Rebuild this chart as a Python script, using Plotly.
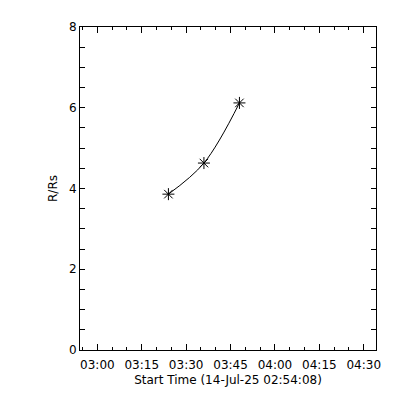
import plotly.graph_objects as go

times = ["2025-07-14 03:24:00", "2025-07-14 03:36:00", "2025-07-14 03:48:00"]
heights = [3.86, 4.63, 6.12]
x_range = ["2025-07-14 02:54:08", "2025-07-14 04:34:08"]
y_ticks = [0, 2, 4, 6, 8]

fig = go.Figure()
fig.add_trace(go.Scatter(
    x=times, y=heights, mode="lines+markers",
    line=dict(color="black", width=1, shape="spline"),
    marker=dict(symbol="asterisk-open", size=10, color="black", line=dict(color="black", width=1)),
    showlegend=False,
))

font = dict(family="DejaVu Sans", size=12, color="black")
fig.update_layout(
    width=400, height=400,
    margin=dict(l=72, r=32, t=16, b=58),
    paper_bgcolor="white", plot_bgcolor="white",
    font=font,
    xaxis=dict(
        type="date", range=x_range,
        tickformat="%H:%M", dtick=15 * 60 * 1000, tick0="2025-07-14 03:00:00",
        ticks="inside", ticklen=6, tickcolor="black", tickwidth=1,
        showline=True, linecolor="black", linewidth=1, mirror="ticks",
        showgrid=False, zeroline=False, ticklabelstandoff=4,
        minor=dict(dtick=5 * 60 * 1000, tick0="2025-07-14 03:00:00", ticks="inside", ticklen=3, tickcolor="black", showgrid=False),
        title=dict(text="Start Time (14-Jul-25 02:54:08)", standoff=4, font=font),
        tickfont=font,
    ),
    yaxis=dict(
        range=[0, 8], tickvals=y_ticks,
        ticks="inside", ticklen=5, tickcolor="black", tickwidth=1,
        showline=True, linecolor="black", linewidth=1, mirror="ticks",
        showgrid=False, zeroline=False,
        minor=dict(dtick=0.5, ticks="inside", ticklen=5, tickcolor="black", showgrid=False),
        title=dict(text="R/Rs", standoff=8, font=font),
        tickfont=font,
    ),
)
fig.write_html("out.html")
